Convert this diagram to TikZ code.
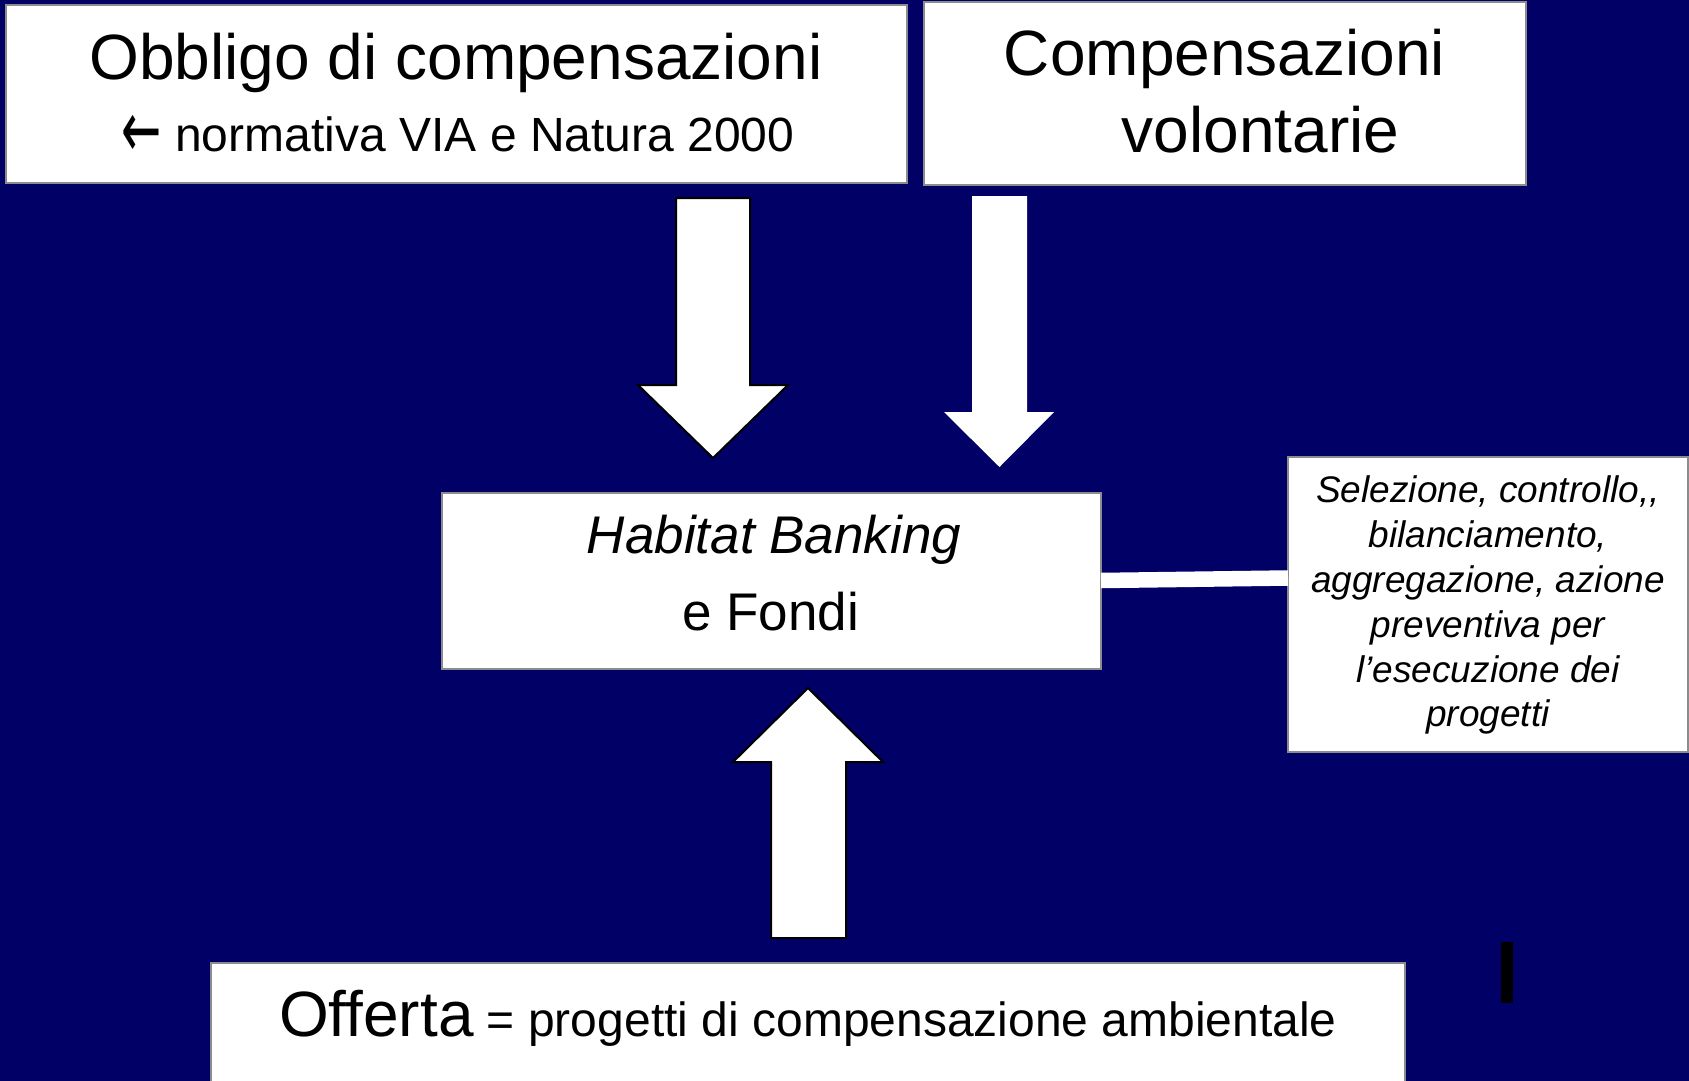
\documentclass[tikz,border=0pt]{standalone}
\usepackage{fontspec}
\setmainfont{Liberation Sans}
\newfontfamily\arrowfont{DejaVu Sans}
\definecolor{navy}{RGB}{0,0,102}
\definecolor{boxgray}{RGB}{140,140,140}
\begin{document}
\begin{tikzpicture}[x=1pt,y=-1pt,
  box/.style={draw=boxgray, line width=2pt, fill=white, inner sep=0pt, outer sep=0pt},
  txt/.style={anchor=base, inner sep=0pt, outer sep=0pt, text=black},
  bigtxt/.style={txt, font=\fontsize{64}{64}\selectfont},
  midtxt/.style={txt, font=\fontsize{48}{48}\selectfont},
  hbtxt/.style={txt, font=\fontsize{53}{53}\selectfont},
  seltxt/.style={txt, font=\fontsize{37}{37}\selectfont\itshape},
  blockarrow/.style={fill=white, draw=black, line width=2pt, line join=miter},
  plainarrow/.style={fill=white},
  conn/.style={draw=white, line width=15.5pt, line cap=butt}
]
\fill[navy] (0,0) rectangle (1689,1081);
\useasboundingbox (0,0) rectangle (1689,1081);

% boxes
\node[box, minimum width=901pt, minimum height=178pt] (obl) at (456.5,94) {};
\node[box, minimum width=602pt, minimum height=183pt] (vol) at (1225,93.5) {};
\node[box, minimum width=659pt, minimum height=176pt] (hb) at (771.5,581) {};
\node[box, minimum width=400pt, minimum height=295pt] (sel) at (1488,604.5) {};
\node[box, minimum width=1194pt, minimum height=134pt] (off) at (808,1030) {};

% connector
\draw[conn] ([yshift=0.5pt]hb.east) -- ([yshift=26.5pt]sel.west);

% texts
\node[bigtxt] (t1) at (456,79) {Obbligo di compensazioni};
\node[midtxt] (t2) at (458,151) {\raisebox{-6pt}{\scalebox{0.6}[1]{\fontsize{80}{80}\arrowfont ←}} normativa VIA e Natura 2000};
\node[bigtxt] (t3) at (1224.5,75) {Compensazioni};
\node[bigtxt] (t4) at (1260.5,152) {volontarie};
\node[hbtxt, font=\fontsize{53}{53}\selectfont\itshape] (t5) at (774,553) {Habitat Banking};
\node[hbtxt] (t6) at (770.5,630) {e Fondi};
\node[seltxt] (s1) at (1488,502) {Selezione, controllo,{},};
\node[seltxt] (s2) at (1488,547) {bilanciamento,};
\node[seltxt] (s3) at (1488,592) {aggregazione, azione};
\node[seltxt] (s4) at (1488,637) {preventiva per};
\node[seltxt] (s5) at (1488,682) {l’esecuzione dei};
\node[seltxt] (s6) at (1488,726) {progetti};
\node[txt] (t7) at (808,1036) {{\fontsize{64}{64}\selectfont Offerta}{\fontsize{48}{48}\selectfont{} = progetti di compensazione ambientale}};

% block arrows
\draw[blockarrow] (676,198) -- (750,198) -- (750,385) -- (788,385) -- (713,458) -- (638,385) -- (676,385) -- cycle;
\fill[plainarrow] (972,196) -- (1027,196) -- (1027,412) -- (1054,412) -- (999.5,467) -- (944,412) -- (972,412) -- cycle;
\draw[blockarrow] (808,688) -- (883,762) -- (846,762) -- (846,938) -- (771,938) -- (771,762) -- (733,762) -- cycle;

% black bar
\fill[black] (1501,942) rectangle (1513,1003);
\end{tikzpicture}
\end{document}
